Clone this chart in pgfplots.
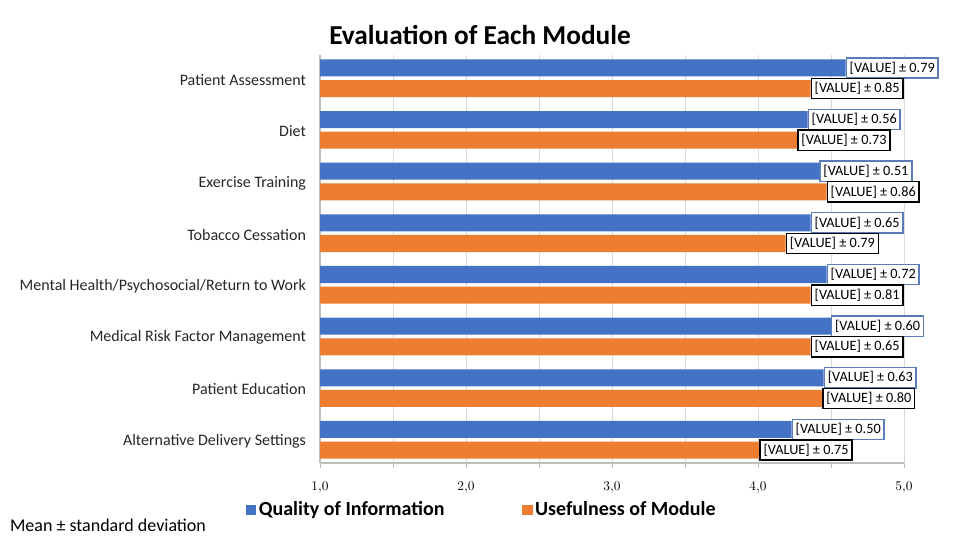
\documentclass[border=0pt]{standalone}
\usepackage{pgfplots}
\pgfplotsset{compat=1.18}
\usepackage{pgfplotstable}
\usepackage{fontspec}
\setmainfont{Carlito}
\definecolor{qblue}{HTML}{4472C4}
\definecolor{uorange}{HTML}{ED7D31}
\definecolor{gridc}{HTML}{D9D9D9}
\definecolor{lblblue}{HTML}{5A7DB8}
\pgfplotstableread{
y x sd
-0.2 4.60 0.79
0.8 4.34 0.56
1.8 4.42 0.51
2.8 4.36 0.65
3.8 4.47 0.72
4.8 4.50 0.60
5.8 4.45 0.63
6.8 4.23 0.50
}\quality
\pgfplotstableread{
y x sd
0.2 4.36 0.85
1.2 4.27 0.73
2.2 4.47 0.86
3.2 4.19 0.79
4.2 4.36 0.81
5.2 4.36 0.65
6.2 4.44 0.80
7.2 4.01 0.75
}\usefulness
\begin{document}
\begin{tikzpicture}
\path[use as bounding box] (0,0) rectangle (720pt,-405pt);
\node[font=\fontsize{20.5}{22}\selectfont\bfseries] at (360pt,-26.25pt) {Evaluation of Each Module};
\node[font=\fontsize{13.5}{15}\selectfont, anchor=west] at (4pt,-393.75pt) {Mean ± standard deviation};
\begin{axis}[
  at={(240pt,-41.25pt)}, anchor=north west,
  scale only axis, width=438pt, height=306pt,
  xbar, bar width=0.33,
  xmin=1, xmax=5, ymin=-0.45, ymax=7.45, y dir=reverse,
  xtick={1,2,3,4,5}, minor xtick={1.5,2.5,3.5,4.5},
  /pgf/number format/fixed, /pgf/number format/fixed zerofill, /pgf/number format/precision=1, /pgf/number format/use comma,
  xticklabel style={font=\fontsize{10}{11}\selectfont, yshift=-7pt},
  ytick={0,1,2,3,4,5,6,7},
  yticklabels={Patient Assessment, Diet, Exercise Training, Tobacco Cessation, Mental Health/Psychosocial/Return to Work, Medical Risk Factor Management, Patient Education, Alternative Delivery Settings},
  yticklabel style={font=\fontsize{12}{13}\selectfont, text=black!85, xshift=-3pt, yshift=-1pt},
  major y tick style={draw=none},
  xmajorgrids, xminorgrids,
  major grid style={gridc}, minor grid style={gridc},
  axis x line*=bottom, axis y line*=left,
  axis line style={gridc!70!gray, line width=0.8pt},
  x axis line style={-},
  y axis line style={-},
  tick align=outside, tick style={gridc!70!gray},
  major tick length=4pt, minor tick length=4pt,
  point meta=explicit symbolic,
  nodes near coords={[VALUE] ± \pgfplotspointmeta},
  nodes near coords align=horizontal,
  every node near coord/.append style={anchor=west, fill=white, line width=1.1pt, inner xsep=2.5pt, inner ysep=3pt, font=\fontsize{10.7}{12}\selectfont, text=black},
  legend style={at={(-0.128,-0.115)}, anchor=west, draw=none, fill=none, inner sep=0pt, font=\fontsize{15}{17}\selectfont\bfseries, legend columns=2, /tikz/every even column/.append style={column sep=56pt}},
  legend image code/.code={\fill[#1, draw=none] (0pt,-4pt) rectangle (8pt,4pt);},
  clip=false,
]
\addplot[fill=qblue, draw=none, bar shift=0pt, every node near coord/.append style={draw=lblblue}] table[x=x, y=y, meta=sd] {\quality};
\addlegendentry{Quality of Information}
\addplot[fill=uorange, draw=none, bar shift=0pt, every node near coord/.append style={draw=black}] table[x=x, y=y, meta=sd] {\usefulness};
\addlegendentry{Usefulness of Module}
\end{axis}
\end{tikzpicture}
\end{document}
